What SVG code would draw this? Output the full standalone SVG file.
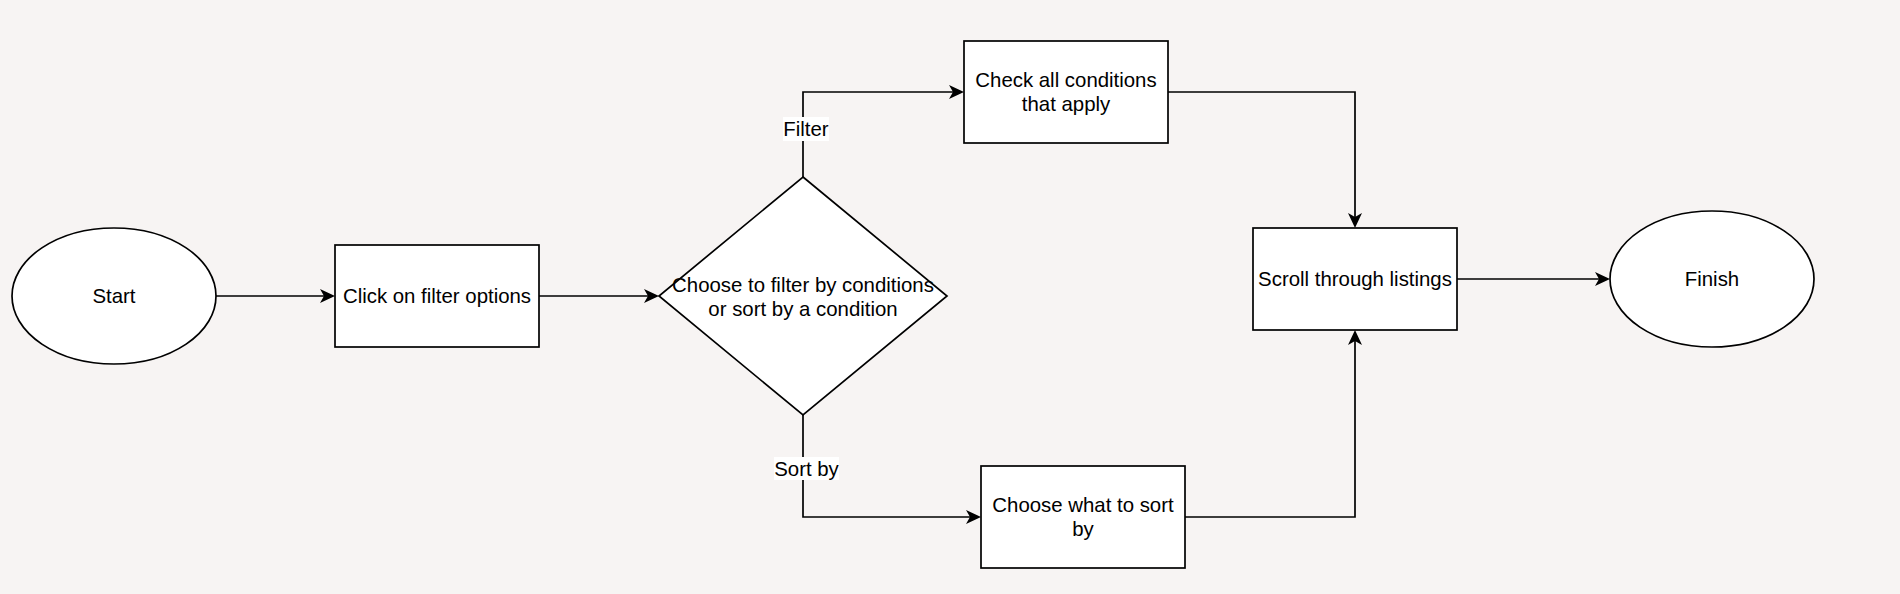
<svg xmlns="http://www.w3.org/2000/svg" width="1900" height="594" viewBox="0 0 1900 594">
<defs>
<style>
.shape{fill:#ffffff;stroke:#000000;stroke-width:1.7}
.edge{fill:none;stroke:#000000;stroke-width:1.7}
.t{font-family:"Liberation Sans",Arial,Helvetica,sans-serif;font-size:20.4px;fill:#000000;text-anchor:middle}
.lbl{fill:#ffffff;stroke:none}
</style>
<marker id="arrow" viewBox="0 0 15 14" refX="11" refY="7" markerWidth="15" markerHeight="14" markerUnits="userSpaceOnUse" orient="auto">
<path d="M0,0 L15,7 L0,14 L4,7 Z" fill="#000000"/>
</marker>
</defs>
<rect x="0" y="0" width="1900" height="594" fill="#F7F4F3"/>
<g id="connectors">
<path class="edge" d="M216,296 L331,296" marker-end="url(#arrow)"/>
<path class="edge" d="M539,296 L655,296" marker-end="url(#arrow)"/>
<path class="edge" d="M803,177 L803,92 L960,92" marker-end="url(#arrow)"/>
<path class="edge" d="M803,415 L803,517 L977,517" marker-end="url(#arrow)"/>
<path class="edge" d="M1168,92 L1355,92 L1355,224" marker-end="url(#arrow)"/>
<path class="edge" d="M1185,517 L1355,517 L1355,334" marker-end="url(#arrow)"/>
<path class="edge" d="M1457,279 L1606,279" marker-end="url(#arrow)"/>
<g id="label-filter">
<rect class="lbl" x="783" y="117" width="46" height="24"/>
<text class="t" x="806" y="136">Filter</text>
</g>
<g id="label-sortby">
<rect class="lbl" x="774" y="457" width="65" height="23"/>
<text class="t" x="806.5" y="475.5">Sort by</text>
</g>
</g>
<g id="start">
<ellipse class="shape" cx="114" cy="296" rx="102" ry="68"/>
<text class="t" x="114" y="303">Start</text>
</g>
<g id="click-filter">
<rect class="shape" x="335" y="245" width="204" height="102"/>
<text class="t" x="437" y="303">Click on filter options</text>
</g>
<g id="decision">
<polygon class="shape" points="803,177 947,296 803,415 659,296"/>
<text class="t" x="803" y="292">Choose to filter by conditions</text>
<text class="t" x="803" y="316">or sort by a condition</text>
</g>
<g id="check-conditions">
<rect class="shape" x="964" y="41" width="204" height="102"/>
<text class="t" x="1066" y="87">Check all conditions</text>
<text class="t" x="1066" y="111">that apply</text>
</g>
<g id="choose-sort">
<rect class="shape" x="981" y="466" width="204" height="102"/>
<text class="t" x="1083" y="512">Choose what to sort</text>
<text class="t" x="1083" y="536">by</text>
</g>
<g id="scroll">
<rect class="shape" x="1253" y="228" width="204" height="102"/>
<text class="t" x="1355" y="286">Scroll through listings</text>
</g>
<g id="finish">
<ellipse class="shape" cx="1712" cy="279" rx="102" ry="68"/>
<text class="t" x="1712" y="286">Finish</text>
</g>
</svg>
